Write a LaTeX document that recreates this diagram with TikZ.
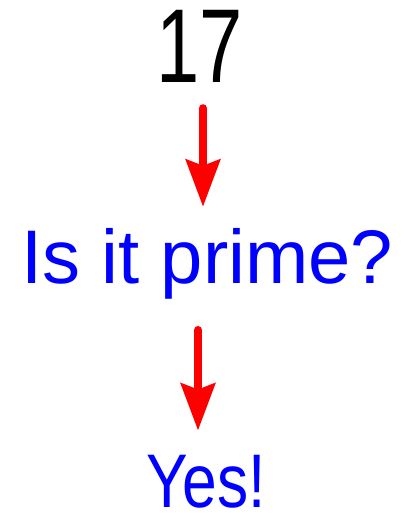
\documentclass[tikz,border=0pt]{standalone}
\usepackage{fontspec}
\setmainfont{Liberation Sans}
\usetikzlibrary{arrows.meta}
\definecolor{qblue}{RGB}{0,0,255}
\definecolor{ared}{RGB}{255,0,0}
\tikzset{
  numtxt/.style={inner sep=0pt, anchor=base, font=\fontsize{105}{110}\selectfont, text=black},
  handtxt/.style={inner sep=0pt, anchor=base, font=\fontsize{76}{80}\selectfont, text=qblue},
  arr/.style={draw=ared, line width=8pt, line cap=round,
    -{Stealth[length=47pt, width=34pt, inset=6pt, fill=ared]}}
}
\begin{document}
\begin{tikzpicture}[x=1pt, y=-1pt]
\useasboundingbox (0,0) rectangle (408,521);
\node[numtxt] (n17) at (200,83) {\scalebox{0.74}[1]{17}};
\node[handtxt] (q) at (207.5,283) {Is it prime?};
\node[handtxt] (yes) at (206,507) {\scalebox{0.82}[1]{Yes!}};
\draw[arr] ([xshift=3pt, yshift=-25pt]n17.south) -- ([xshift=-4.5pt, yshift=21pt]q.north);
\draw[arr] ([xshift=-9.5pt, yshift=-31pt]q.south) -- ([xshift=-8pt, yshift=24pt]yes.north);
\end{tikzpicture}
\end{document}
